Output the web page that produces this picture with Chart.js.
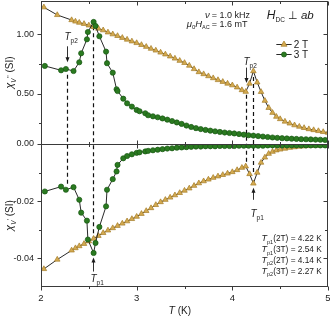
<!DOCTYPE html>
<html>
<head>
<meta charset="utf-8">
<script src="https://cdn.jsdelivr.net/npm/chart.js@4.4.1/dist/chart.umd.min.js"></script>
<style>
  html, body { margin: 0; padding: 0; background: #fff; }
</style>
</head>
<body>
<canvas id="chart" width="330" height="319"></canvas>
<script>
'use strict';

// 2 T run: temperatures, chi'' (top panel) and chi' (bottom panel)
let T2 = [2.03, 2.17, 2.32, 2.36, 2.40, 2.45, 2.50, 2.55, 2.60, 2.65, 2.70, 2.75, 2.80, 2.85, 2.90, 2.95,
  3.00, 3.05, 3.10, 3.15, 3.20, 3.25, 3.30, 3.35, 3.40, 3.45, 3.50, 3.55, 3.60, 3.65, 3.70, 3.75, 3.80,
  3.85, 3.90, 3.95, 4.00, 4.05, 4.10, 4.14, 4.18, 4.22, 4.26, 4.30, 4.34, 4.38, 4.42, 4.46, 4.50, 4.55,
  4.60, 4.65, 4.70, 4.75, 4.80, 4.85, 4.90, 4.95, 5.00];
let chiPP2 = [1.230, 1.165, 1.122, 1.110, 1.100, 1.090, 1.077, 1.064, 1.050, 1.036, 1.018, 1.002, 0.988,
  0.972, 0.957, 0.942, 0.928, 0.912, 0.896, 0.880, 0.865, 0.848, 0.832, 0.815, 0.797, 0.778, 0.760, 0.737,
  0.708, 0.682, 0.665, 0.648, 0.631, 0.615, 0.600, 0.585, 0.571, 0.553, 0.530, 0.516, 0.585, 0.690, 0.595,
  0.515, 0.440, 0.380, 0.338, 0.305, 0.285, 0.264, 0.248, 0.233, 0.221, 0.210, 0.200, 0.192, 0.184, 0.176, 0.170];
let chiP2 = [-0.0437, -0.0404, -0.0372, -0.0364, -0.0357, -0.0349, -0.0340, -0.0331, -0.0321, -0.0311,
  -0.0302, -0.0294, -0.0286, -0.0278, -0.0270, -0.0262, -0.0254, -0.0244, -0.0234, -0.0224, -0.0213,
  -0.0203, -0.0195, -0.0187, -0.0179, -0.0171, -0.0163, -0.0155, -0.0146, -0.0137, -0.0130, -0.0124,
  -0.0118, -0.0113, -0.0108, -0.0103, -0.0098, -0.0091, -0.0083, -0.0078, -0.0105, -0.0138, -0.0100,
  -0.0065, -0.0047, -0.0034, -0.0027, -0.0022, -0.0019, -0.0016, -0.0013, -0.0011, -0.0009, -0.0008,
  -0.0007, -0.0006, -0.0005, -0.0004, -0.0004];

// 3 T run
let T3 = [2.04, 2.21, 2.26, 2.34, 2.40, 2.42, 2.48, 2.49, 2.55, 2.57, 2.61, 2.68, 2.69, 2.75, 2.79, 2.80,
  2.86, 2.90, 2.95, 3.00, 3.03, 3.09, 3.12, 3.17, 3.22, 3.27, 3.32, 3.37, 3.42, 3.47, 3.52, 3.57, 3.62,
  3.67, 3.72, 3.77, 3.82, 3.87, 3.92, 3.97, 4.02, 4.07, 4.12, 4.17, 4.22, 4.27, 4.32, 4.37, 4.42, 4.47,
  4.52, 4.57, 4.62, 4.67, 4.72, 4.77, 4.82, 4.87, 4.92, 4.97];
let chiPP3 = [0.734, 0.697, 0.708, 0.691, 0.765, 0.841, 0.959, 1.021, 1.106, 1.072, 0.985, 0.855, 0.757,
  0.677, 0.537, 0.522, 0.457, 0.418, 0.390, 0.362, 0.351, 0.334, 0.317, 0.308, 0.300, 0.290, 0.280, 0.268,
  0.256, 0.244, 0.230, 0.218, 0.208, 0.200, 0.193, 0.187, 0.181, 0.176, 0.171, 0.167, 0.163, 0.158, 0.153,
  0.148, 0.145, 0.141, 0.137, 0.133, 0.129, 0.126, 0.123, 0.121, 0.119, 0.117, 0.115, 0.114, 0.113, 0.111,
  0.110, 0.108];
let chiP3 = [-0.0166, -0.0149, -0.0160, -0.0151, -0.0195, -0.0240, -0.0268, -0.0334, -0.0381, -0.0346,
  -0.0290, -0.0218, -0.0160, -0.0123, -0.0096, -0.0073, -0.0050, -0.0042, -0.0036, -0.0031, -0.0029,
  -0.0026, -0.0024, -0.0022, -0.0020, -0.0018, -0.0016, -0.0015, -0.0013, -0.0012, -0.0011, -0.0010,
  -0.0009, -0.0009, -0.0008, -0.0008, -0.0008, -0.0007, -0.0007, -0.0007, -0.0007, -0.0006, -0.0006,
  -0.0006, -0.0006, -0.0006, -0.0006, -0.0005, -0.0005, -0.0005, -0.0005, -0.0005, -0.0005, -0.0005,
  -0.0005, -0.0005, -0.0005, -0.0005, -0.0005, -0.0005];

// axis ticks
let xTicks = [2, 2.5, 3, 3.5, 4, 4.5, 5];
let xLabels = [2, 3, 4, 5];
let topTicks = [0.25, 0.5, 0.75, 1.0];
let topLabels = [0.5, 1.0];
let botTicks = [-0.04, -0.03, -0.02, -0.01, 0];
let botLabels = [-0.04, -0.02, 0];

// transition temperatures
let tpNames = ['p1', 'p1', 'p2', 'p2'];
let tpFields = ['2T', '3T', '2T', '3T'];
let tpValues = [4.22, 2.54, 4.14, 2.27];

const FONT = '"Liberation Sans", Arial, Helvetica, sans-serif';
const GOLD = 'rgb(212,170,80)';
const GOLD_EDGE = 'rgb(165,125,40)';
const GREEN = 'rgb(42,122,32)';
const GREEN_EDGE = 'rgb(24,88,18)';
const AXIS = '#3a3a3a';

function pts(xs, ys) {
  let out = [];
  for (let i = 0; i < xs.length && i < ys.length; i++) {
    out.push({ x: xs[i], y: ys[i] });
  }
  return out;
}

function makeSet(label, data, axis, style, fill, edge, r) {
  return {
    label: label,
    data: data,
    yAxisID: axis,
    showLine: true,
    borderColor: '#111',
    borderWidth: 0.9,
    tension: 0,
    pointStyle: style,
    pointRadius: r,
    pointBackgroundColor: fill,
    pointBorderColor: edge,
    pointBorderWidth: 0.7
  };
}

function noPad(s) {
  s.paddingTop = 0; s.paddingBottom = 0; s.paddingLeft = 0; s.paddingRight = 0;
}

function yScale(min, max, ticks, labels) {
  return {
    type: 'linear', position: 'left', stack: 'chi', stackWeight: 1,
    min: min, max: max,
    grid: { display: false, drawTicks: false },
    border: { display: false },
    afterBuildTicks: s => { s.ticks = ticks.map(v => ({ value: v })); },
    afterFit: s => { s.width = 41; noPad(s); },
    ticks: {
      autoSkip: false, padding: 7, color: '#222', font: { family: FONT, size: 9 },
      callback: v => labels.includes(v) ? v.toFixed(2) : ''
    }
  };
}

function font(size, italic) {
  return (italic ? 'italic ' : '') + size + 'px ' + FONT;
}

// draw a run of text pieces: [text, size, italic, dy]
function rich(ctx, parts, x, y, align) {
  let w = 0;
  for (const p of parts) { ctx.font = font(p[1], p[2]); w += ctx.measureText(p[0]).width; }
  let cx = align === 'center' ? x - w / 2 : align === 'right' ? x - w : x;
  for (const p of parts) {
    ctx.font = font(p[1], p[2]);
    ctx.fillText(p[0], cx, y + (p[3] || 0));
    cx += ctx.measureText(p[0]).width;
  }
}

function arrow(ctx, x, y0, y1) {
  let d = y1 > y0 ? 1 : -1;
  ctx.beginPath(); ctx.moveTo(x, y0); ctx.lineTo(x, y1 - 3 * d); ctx.stroke();
  ctx.beginPath(); ctx.moveTo(x, y1); ctx.lineTo(x - 2, y1 - 5 * d); ctx.lineTo(x + 2, y1 - 5 * d);
  ctx.closePath(); ctx.fill();
}

function tpLabel(ctx, name, x, y) {
  rich(ctx, [['T', 10, true, 0], [name, 6.5, false, 3]], x - 3, y, 'left');
}

const decor = {
  id: 'decor',
  beforeDatasetsDraw(chart) {
    const { ctx, scales: { x, yT, yB } } = chart;
    // dashed guides from the top panel feature to the bottom one
    let spans = [[4.22, 0.64, -0.0108], [2.54, 1.07, -0.0335], [4.14, 0.49, -0.0073], [2.27, 0.66, -0.0145]];
    ctx.save();
    ctx.strokeStyle = '#111';
    ctx.lineWidth = 1.2;
    ctx.setLineDash([4, 3]);
    for (let i = 0; i < tpValues.length; i++) {
      let px = Math.round(x.getPixelForValue(tpValues[i])) + 0.5;
      ctx.beginPath();
      ctx.moveTo(px, yT.getPixelForValue(spans[i][1]));
      ctx.lineTo(px, yB.getPixelForValue(spans[i][2]));
      ctx.stroke();
    }
    ctx.restore();
  },
  afterDraw(chart) {
    const { ctx, chartArea: a, scales: { x, yT, yB } } = chart;
    ctx.save();
    ctx.strokeStyle = AXIS;
    ctx.lineWidth = 1;
    let L = a.left + 0.5, R = a.right - 0.5, Tp = a.top + 0.5, B = a.bottom - 0.5;
    let mid = Math.round(yB.top) + 0.5;
    ctx.strokeRect(L, Tp, R - L, B - Tp);
    ctx.beginPath(); ctx.moveTo(L, mid); ctx.lineTo(R, mid); ctx.stroke();

    ctx.beginPath();
    // x ticks: bottom outward, top inward, divider both ways
    for (const v of xTicks) {
      let px = Math.round(x.getPixelForValue(v)) + 0.5;
      let len = xLabels.includes(v) ? 4 : 2.5;
      ctx.moveTo(px, B); ctx.lineTo(px, B + len);
      ctx.moveTo(px, Tp); ctx.lineTo(px, Tp + len);
      ctx.moveTo(px, mid - len); ctx.lineTo(px, mid + len);
    }
    // y ticks: left outward, right inward
    const yt = (scale, ticks, labels) => {
      for (const v of ticks) {
        let py = Math.round(scale.getPixelForValue(v)) + 0.5;
        let len = labels.includes(v) ? 4 : 2.5;
        ctx.moveTo(L - len, py); ctx.lineTo(L, py);
        ctx.moveTo(R - len, py); ctx.lineTo(R, py);
      }
    };
    yt(yT, topTicks, topLabels);
    yt(yB, botTicks, botLabels);
    ctx.stroke();

    ctx.fillStyle = '#1a1a1a';
    ctx.strokeStyle = '#1a1a1a';
    ctx.lineWidth = 0.9;
    ctx.textBaseline = 'alphabetic';

    // arrows with T_p labels
    let xp = v => Math.round(x.getPixelForValue(v)) + 0.5;
    arrow(ctx, xp(2.27), yT.getPixelForValue(0.90), yT.getPixelForValue(0.765));
    tpLabel(ctx, 'p2', xp(2.27), yT.getPixelForValue(0.955));
    arrow(ctx, xp(4.14), yT.getPixelForValue(0.72), yT.getPixelForValue(0.59));
    tpLabel(ctx, 'p2', xp(4.14), yT.getPixelForValue(0.745));
    arrow(ctx, xp(2.54), yB.getPixelForValue(-0.0446), yB.getPixelForValue(-0.0397));
    tpLabel(ctx, 'p1', xp(2.54), yB.getPixelForValue(-0.0484));
    arrow(ctx, xp(4.22), yB.getPixelForValue(-0.0195), yB.getPixelForValue(-0.0153));
    tpLabel(ctx, 'p1', xp(4.22), yB.getPixelForValue(-0.0254));

    // measurement conditions
    let eq = x.getPixelForValue(3.785);
    rich(ctx, [['\u03bd', 9.5, true, 0]], eq - 2, yT.getPixelForValue(1.139), 'right');
    rich(ctx, [['= 1.0 kHz', 9, false, 0]], eq, yT.getPixelForValue(1.139), 'left');
    rich(ctx, [['\u03bc', 9.5, true, 0], ['0', 6, false, 2], ['H', 9.5, true, 0], ['AC', 5.5, false, 2]],
      eq - 2, yT.getPixelForValue(1.063), 'right');
    rich(ctx, [['= 1.6 mT', 9, false, 0]], eq, yT.getPixelForValue(1.063), 'left');
    rich(ctx, [['H', 12, true, 0], ['DC', 6.5, false, 3], [' \u22a5 ', 11, false, 0], ['ab', 11.5, true, 0]],
      x.getPixelForValue(4.36), yT.getPixelForValue(1.127), 'left');

    // legend
    let legend = [['2 T', 'triangle', GOLD, GOLD_EDGE, 0.92], ['3 T', 'circle', GREEN, GREEN_EDGE, 0.835]];
    for (const it of legend) {
      let ly = Math.round(yT.getPixelForValue(it[4])) + 0.5;
      let x0 = x.getPixelForValue(4.46), x1 = x.getPixelForValue(4.62);
      ctx.strokeStyle = '#111';
      ctx.lineWidth = 0.9;
      ctx.beginPath(); ctx.moveTo(x0, ly); ctx.lineTo(x1, ly); ctx.stroke();
      ctx.fillStyle = it[2];
      ctx.strokeStyle = it[3];
      ctx.lineWidth = 0.7;
      Chart.helpers.drawPoint(ctx, { pointStyle: it[1], radius: it[1] === 'circle' ? 2.5 : 3.5, rotation: 0, borderWidth: 0.7 }, (x0 + x1) / 2, ly);
      ctx.fillStyle = '#1a1a1a';
      rich(ctx, [[it[0], 10, false, 0]], x1 + 2, ly + 3.5, 'left');
    }

    // transition temperature list
    let by = yB.getPixelForValue(-0.0340);
    for (let i = 0; i < tpValues.length; i++) {
      rich(ctx, [['T', 9, true, 0], [tpNames[i], 5.5, false, 2.5],
        ['(' + tpFields[i] + ') = ' + tpValues[i].toFixed(2) + ' K', 8.3, false, 0]],
        x.getPixelForValue(4.305), by + i * 10.8, 'left');
    }

    // axis titles
    rich(ctx, [['T', 10.5, true, 0], [' (K)', 10, false, 0]], x.getPixelForValue(3.45), 314, 'center');
    const vTitle = (mark, cy) => {
      ctx.save();
      ctx.translate(13, cy);
      ctx.rotate(-Math.PI / 2);
      rich(ctx, [['\u03c7', 11, true, 0], ['V', 6.5, true, 3], [mark, 8, false, -1], [' (SI)', 10, false, 0]], 0, 0, 'center');
      ctx.restore();
    };
    vTitle("''", (yT.top + yT.bottom) / 2);
    vTitle("'", (yB.top + yB.bottom) / 2);
    ctx.restore();
  }
};

new Chart(document.getElementById('chart'), {
  type: 'scatter',
  data: {
    datasets: [
      makeSet('3 T', pts(T3, chiPP3), 'yT', 'circle', GREEN, GREEN_EDGE, 2.6),
      makeSet('3 T', pts(T3, chiP3), 'yB', 'circle', GREEN, GREEN_EDGE, 2.6),
      makeSet('2 T', pts(T2, chiPP2), 'yT', 'triangle', GOLD, GOLD_EDGE, 3.2),
      makeSet('2 T', pts(T2, chiP2), 'yB', 'triangle', GOLD, GOLD_EDGE, 3.2)
    ]
  },
  options: {
    responsive: false,
    animation: false,
    devicePixelRatio: 1,
    layout: { autoPadding: false, padding: { left: 0, right: 2, top: 1, bottom: 0 } },
    plugins: { legend: { display: false }, tooltip: { enabled: false } },
    scales: {
      x: {
        type: 'linear', min: 2, max: 5,
        grid: { display: false, drawTicks: false },
        border: { display: false },
        afterBuildTicks: s => { s.ticks = xTicks.map(v => ({ value: v })); },
        afterFit: s => { s.height = 32; noPad(s); },
        ticks: {
          autoSkip: false, maxRotation: 0, padding: 6, color: '#222', font: { family: FONT, size: 9.5 },
          callback: v => xLabels.includes(v) ? String(v) : ''
        }
      },
      yB: yScale(-0.05, 0, botTicks, botLabels),
      yT: yScale(0.074, 1.283, topTicks, topLabels)
    }
  },
  plugins: [decor]
});
</script>
</body>
</html>
